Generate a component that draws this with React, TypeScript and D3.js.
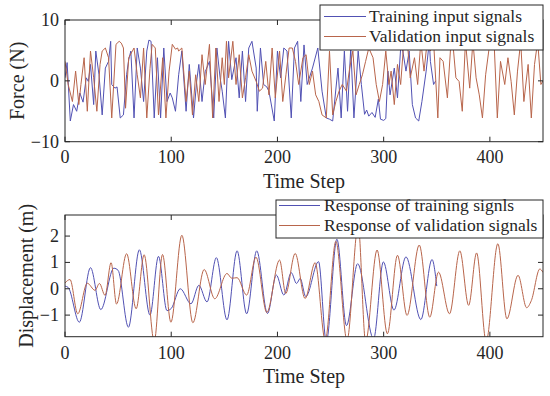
import * as d3 from "d3";

// ---- data ----
const xTicks = [0, 100, 200, 300, 400];
const forceTicks = [-10, 0, 10];
const dispTicks = [-1, 0, 1, 2];

// training input force (time step, N)
const trainForce: [number, number][] = [
  [0, 0.5], [2, 3.0], [5, -6.6], [8, -3.9], [11, -5.0], [14, -2.0], [17, -3.5], [20, 0.5], [22, -0.1],
  [24, 2.7], [27, -3.9], [29, 4.9], [32, 1.0], [35, -5.6], [38, 2.1], [41, 3.2], [43, 6.5], [44, -0.6],
  [47, -1.2], [49, -1.0], [52, -6.1], [55, -5.6], [58, 1.0], [60, 3.5], [62, 4.9], [65, -6.1], [68, 5.4],
  [71, 2.1], [74, -3.4], [77, 4.9], [79, 6.7], [81, 6.5], [84, -6.1], [87, 3.8], [90, -6.1], [93, 5.4],
  [96, -3.4], [99, -2.0], [101, -2.8], [104, -5.0], [107, 1.0], [110, 4.9], [114, -5.0], [117, 2.7],
  [121, -6.1], [124, 0], [126, 2.7], [129, -3.4], [132, 1.5], [136, 3.2], [140, -6.1], [143, 5.4],
  [146, 0.5], [148, -1.7], [151, -6.1], [154, 6.5], [157, 0.2], [161, 3.8], [164, -2.8], [167, 4.9],
  [170, -3.4], [173, 5.4], [176, 6.5], [180, 2.1], [181, -5.0], [184, 5.4], [187, -0.6], [190, -1.0],
  [192, -1.7], [197, -6.6], [200, 4.9], [203, 0.5], [206, 5.4], [209, 4.9], [213, -6.1], [216, 5.4],
  [219, 6.5], [222, -3.4], [225, 5.9], [228, -0.6], [233, 2.1], [238, 5.4], [242, -1.7], [246, -6.1],
  [249, -6.3], [252, -6.6], [257, 2.1], [260, -6.1], [263, 4.9], [266, -5.0], [269, 5.4], [272, -6.1],
  [276, 4.9], [279, -0.6], [282, -5.5], [284, -4.8], [286, -5.8], [289, -5.2], [292, -6.0], [295, -3.0],
  [297, -6.3], [300, -6.5], [302, -6.2], [304, 1.6], [306, -2.3], [310, 2.1], [313, -2.8], [316, 5.4],
  [318, 4.9], [321, 1.6], [324, 4.9], [327, -3.9], [330, -6.1], [333, -6.6], [336, -3.4], [340, 1.6],
  [343, 6.5], [344, 3.2], [347, -0.6], [349, 0],
];

// validation input force (time step, N)
const validForce: [number, number][] = [
  [0, 3.2], [3, -0.6], [7, -3.4], [10, 1.6], [13, -3.9], [15, -0.6], [18, 3.8], [21, -5.0], [24, 4.9],
  [27, 0.5], [30, -5.0], [33, 2.7], [35, 4.9], [38, 5.4], [41, 3.8], [44, -6.1], [48, 6.0], [51, 6.5],
  [53, 6.2], [55, 5.4], [57, -4.5], [60, 3.8], [65, 5.4], [68, 1.0], [71, -2.8], [74, 5.4], [77, -6.1],
  [80, 2.0], [82, 6.0], [85, 5.4], [88, -5.6], [92, 3.8], [95, -6.1], [98, 1.6], [101, 6.0], [104, 5.2],
  [106, 5.4], [107, 4.9], [110, 5.4], [114, -3.4], [117, 1.6], [120, -5.6], [123, 1.0], [126, -3.4],
  [129, 4.3], [132, -0.6], [136, 6.0], [139, -6.1], [142, 5.4], [145, -3.4], [148, 3.8], [150, -0.6],
  [152, 6.5], [154, 0.5], [158, 6.5], [161, -0.6], [164, 4.3], [167, -2.8], [170, 0.5], [173, 4.3],
  [176, 1.6], [180, -0.1], [183, -1.7], [186, -1.2], [189, 3.2], [192, -2.3], [195, 5.4], [198, -2.8],
  [202, 4.9], [205, -3.4], [208, 1.0], [211, 5.4], [214, 5.4], [217, 3.2], [220, -0.6], [224, 3.8],
  [227, 4.3], [230, -0.6], [233, 1.6], [236, -2.3], [239, -3.4], [242, -5.6], [246, -6.1], [249, 4.9],
  [252, -5.6], [255, -3.4], [258, -1.7], [261, -0.6], [265, -1.7], [268, 2.1], [271, 4.9], [274, -2.3],
  [277, -0.6], [280, 1.0], [283, 3.2], [286, 5.4], [290, 3.8], [293, -0.6], [296, -3.4], [299, -0.6],
  [302, 4.9], [305, -0.6], [307, 1.6], [310, -3.9], [313, 2.7], [316, -0.6], [319, 6.5], [322, 7.0],
  [325, 0.5], [329, 3.8], [332, -0.6], [335, 6.5], [338, 1.6], [341, 6.5], [344, 4.9], [347, 6.5],
  [351, -6.1], [353, 3.8], [356, 3.2], [360, -2.8], [363, 5.4], [365, 6.5], [368, 0.5], [371, -0.1],
  [374, -5.0], [377, 6.5], [381, -1.2], [384, 6.5], [387, 0.5], [390, -2.3], [393, -6.1], [396, 1.0],
  [399, 5.0], [401, 6.5], [404, 6.2], [407, -6.1], [410, 3.2], [414, -0.6], [417, 3.8], [420, -0.1],
  [423, -5.6], [426, 1.6], [429, 6.5], [432, -3.4], [436, 2.7], [439, -6.1], [442, 2.7], [445, 6.5],
  [448, -0.6], [450, 0],
];

// displacement response extrema (time step, m)
const trainResp: [number, number][] = [
  [0, 0.1], [3, 0.05], [13.5, -1.27], [24, 0.8], [33.7, -0.79], [46, 0.78], [50, 0.7], [59.7, -1.46],
  [70, 1.48], [80, -1.0], [88, 1.23], [96, -0.83], [100, -0.75], [108.5, 0], [118.6, -0.57], [126, 0.13],
  [133.7, -0.5], [142.5, 1.18], [152.5, -1.18], [162, 1.44], [171, -0.95], [180.5, 1.44], [190.6, -0.94],
  [199, 0.52], [206, -0.24], [213, 0.61], [218, 0.2], [221.4, 0.39], [226.7, -0.3], [238.7, 1.03],
  [246, -2.0], [256, 1.88], [265, -1.4], [275.5, 0.95], [290.5, -1.9], [299.7, 1.02], [309.7, -0.81],
  [321, 1.21], [335, -1.17], [345.5, 1.11], [350, 0.1],
];

const validResp: [number, number][] = [
  [0, 0.22], [4.7, 0.35], [12, -0.95], [21, 0.21], [28.3, -0.06], [32.4, 0.2], [37.7, -0.25], [43.4, 0.99],
  [48.5, -0.58], [58, 1.33], [67, -0.76], [74.5, 1.29], [84, -2.0], [91.8, 1.3], [99.7, -1.27], [110, 2.03],
  [120.4, -1.29], [131, 0.73], [141, -0.38], [152.5, 0.58], [157, 0.4], [162, 0.42], [171, -0.24],
  [179.8, 1.2], [190, -0.9], [202, 1.09], [207.8, -0.18], [216.7, 1.34], [226, -0.37], [235.5, 0.99],
  [245, -1.95], [255, 1.8], [265.5, -1.95], [276, 2.4], [283, -2.0], [293.8, 1.47], [303.5, -1.71],
  [313, 1.27], [322, -1.01], [333.5, 1.66], [343.4, -1.08], [351.6, 0.63], [362, -0.95], [371.7, 1.44],
  [380, -0.63], [387.5, 1.36], [396.5, -2.0], [407.5, 1.71], [416, -1.14], [426.5, 0.51], [434.6, -0.72],
  [439, -0.45], [447, 0.75], [450, 0.62],
];

const BLUE = "#5151b3";
const RED = "#b8654b";
const AXIS = "#262626";
const FONT = "'Liberation Serif', 'DejaVu Serif', serif";

const fmt = (d: number) => (d < 0 ? "\u2212" + Math.abs(d) : String(d));

type PanelProps = {
  id: string;
  top: number;
  bottom: number;
  yDomain: [number, number];
  yTicks: number[];
  yLabel: string;
  series: { data: [number, number][]; color: string; curve: d3.CurveFactory }[];
  legend: string[];
  legendBox: { x: number; y: number; w: number; h: number; lineX0: number; lineX1: number; textX: number; rows: number[] };
  tickBaseline: number;
  xLabelBaseline: number;
  yLabelX: number;
};

const left = 65;
const right = 543;

function Panel(p: PanelProps) {
  const x = d3.scaleLinear().domain([0, 450]).range([left, right]);
  const y = d3.scaleLinear().domain(p.yDomain).range([p.bottom, p.top]);
  const tk = 5;
  return (
    <g>
      <clipPath id={p.id}>
        <rect x={left} y={p.top} width={right - left} height={p.bottom - p.top} />
      </clipPath>
      <rect x={left} y={p.top} width={right - left} height={p.bottom - p.top} fill="white" />
      <g clipPath={`url(#${p.id})`}>
        {p.series.map((s, i) => {
          const line = d3
            .line<[number, number]>()
            .x((d) => x(d[0]))
            .y((d) => y(d[1]))
            .curve(s.curve);
          return <path key={i} d={line(s.data) || ""} fill="none" stroke={s.color} strokeWidth={1} />;
        })}
      </g>
      {/* ticks, inward on all four sides */}
      {xTicks.map((t) => (
        <g key={"x" + t}>
          <line x1={x(t)} x2={x(t)} y1={p.bottom} y2={p.bottom - tk} stroke={AXIS} />
          <line x1={x(t)} x2={x(t)} y1={p.top} y2={p.top + tk} stroke={AXIS} />
          <text x={x(t)} y={p.tickBaseline} textAnchor="middle" fontSize={18} fill={AXIS}>
            {fmt(t)}
          </text>
        </g>
      ))}
      {p.yTicks.map((t) => (
        <g key={"y" + t}>
          <line x1={left} x2={left + tk} y1={y(t)} y2={y(t)} stroke={AXIS} />
          <line x1={right} x2={right - tk} y1={y(t)} y2={y(t)} stroke={AXIS} />
          <text x={left - 6} y={y(t) + 6} textAnchor="end" fontSize={18} fill={AXIS}>
            {fmt(t)}
          </text>
        </g>
      ))}
      <rect x={left} y={p.top} width={right - left} height={p.bottom - p.top} fill="none" stroke={AXIS} strokeWidth={1} />
      <text x={(left + right) / 2} y={p.xLabelBaseline} textAnchor="middle" fontSize={20} fill={AXIS}>
        Time Step
      </text>
      <text
        transform={`translate(${p.yLabelX},${(p.top + p.bottom) / 2}) rotate(-90)`}
        textAnchor="middle"
        fontSize={20}
        fill={AXIS}
      >
        {p.yLabel}
      </text>
      {/* legend */}
      <rect x={p.legendBox.x} y={p.legendBox.y} width={p.legendBox.w} height={p.legendBox.h} fill="white" stroke={AXIS} strokeWidth={1} />
      {p.legend.map((name, i) => (
        <g key={name}>
          <line
            x1={p.legendBox.lineX0}
            x2={p.legendBox.lineX1}
            y1={p.legendBox.rows[i] - 5.5}
            y2={p.legendBox.rows[i] - 5.5}
            stroke={p.series[i].color}
            strokeWidth={1}
          />
          <text x={p.legendBox.textX} y={p.legendBox.rows[i]} fontSize={17.5} fill={AXIS}>
            {name}
          </text>
        </g>
      ))}
    </g>
  );
}

export default function App() {
  return (
    <svg
      width={550}
      height={396}
      viewBox="0 0 550 396"
      style={{ position: "absolute", left: 0, top: 0, background: "white", fontFamily: FONT }}
    >
      <rect width={550} height={396} fill="white" />
      <Panel
        id="clipTop"
        top={20}
        bottom={141.7}
        yDomain={[-10, 10]}
        yTicks={forceTicks}
        yLabel="Force (N)"
        series={[
          { data: trainForce, color: BLUE, curve: d3.curveLinear },
          { data: validForce, color: RED, curve: d3.curveLinear },
        ]}
        legend={["Training input signals", "Validation input signals"]}
        legendBox={{ x: 320, y: 5, w: 223, h: 45, lineX0: 324, lineX1: 366, textX: 369, rows: [22, 42] }}
        tickBaseline={163}
        xLabelBaseline={188}
        yLabelX={24}
      />
      <Panel
        id="clipBottom"
        top={215}
        bottom={336.7}
        yDomain={[-1.82, 2.8]}
        yTicks={dispTicks}
        yLabel="Displacement (m)"
        series={[
          { data: trainResp, color: BLUE, curve: d3.curveMonotoneX },
          { data: validResp, color: RED, curve: d3.curveMonotoneX },
        ]}
        legend={["Response of training signls", "Response of validation signals"]}
        legendBox={{ x: 276, y: 200, w: 267, h: 38, lineX0: 279, lineX1: 320, textX: 324, rows: [211, 231] }}
        tickBaseline={359}
        xLabelBaseline={383}
        yLabelX={33}
      />
    </svg>
  );
}
